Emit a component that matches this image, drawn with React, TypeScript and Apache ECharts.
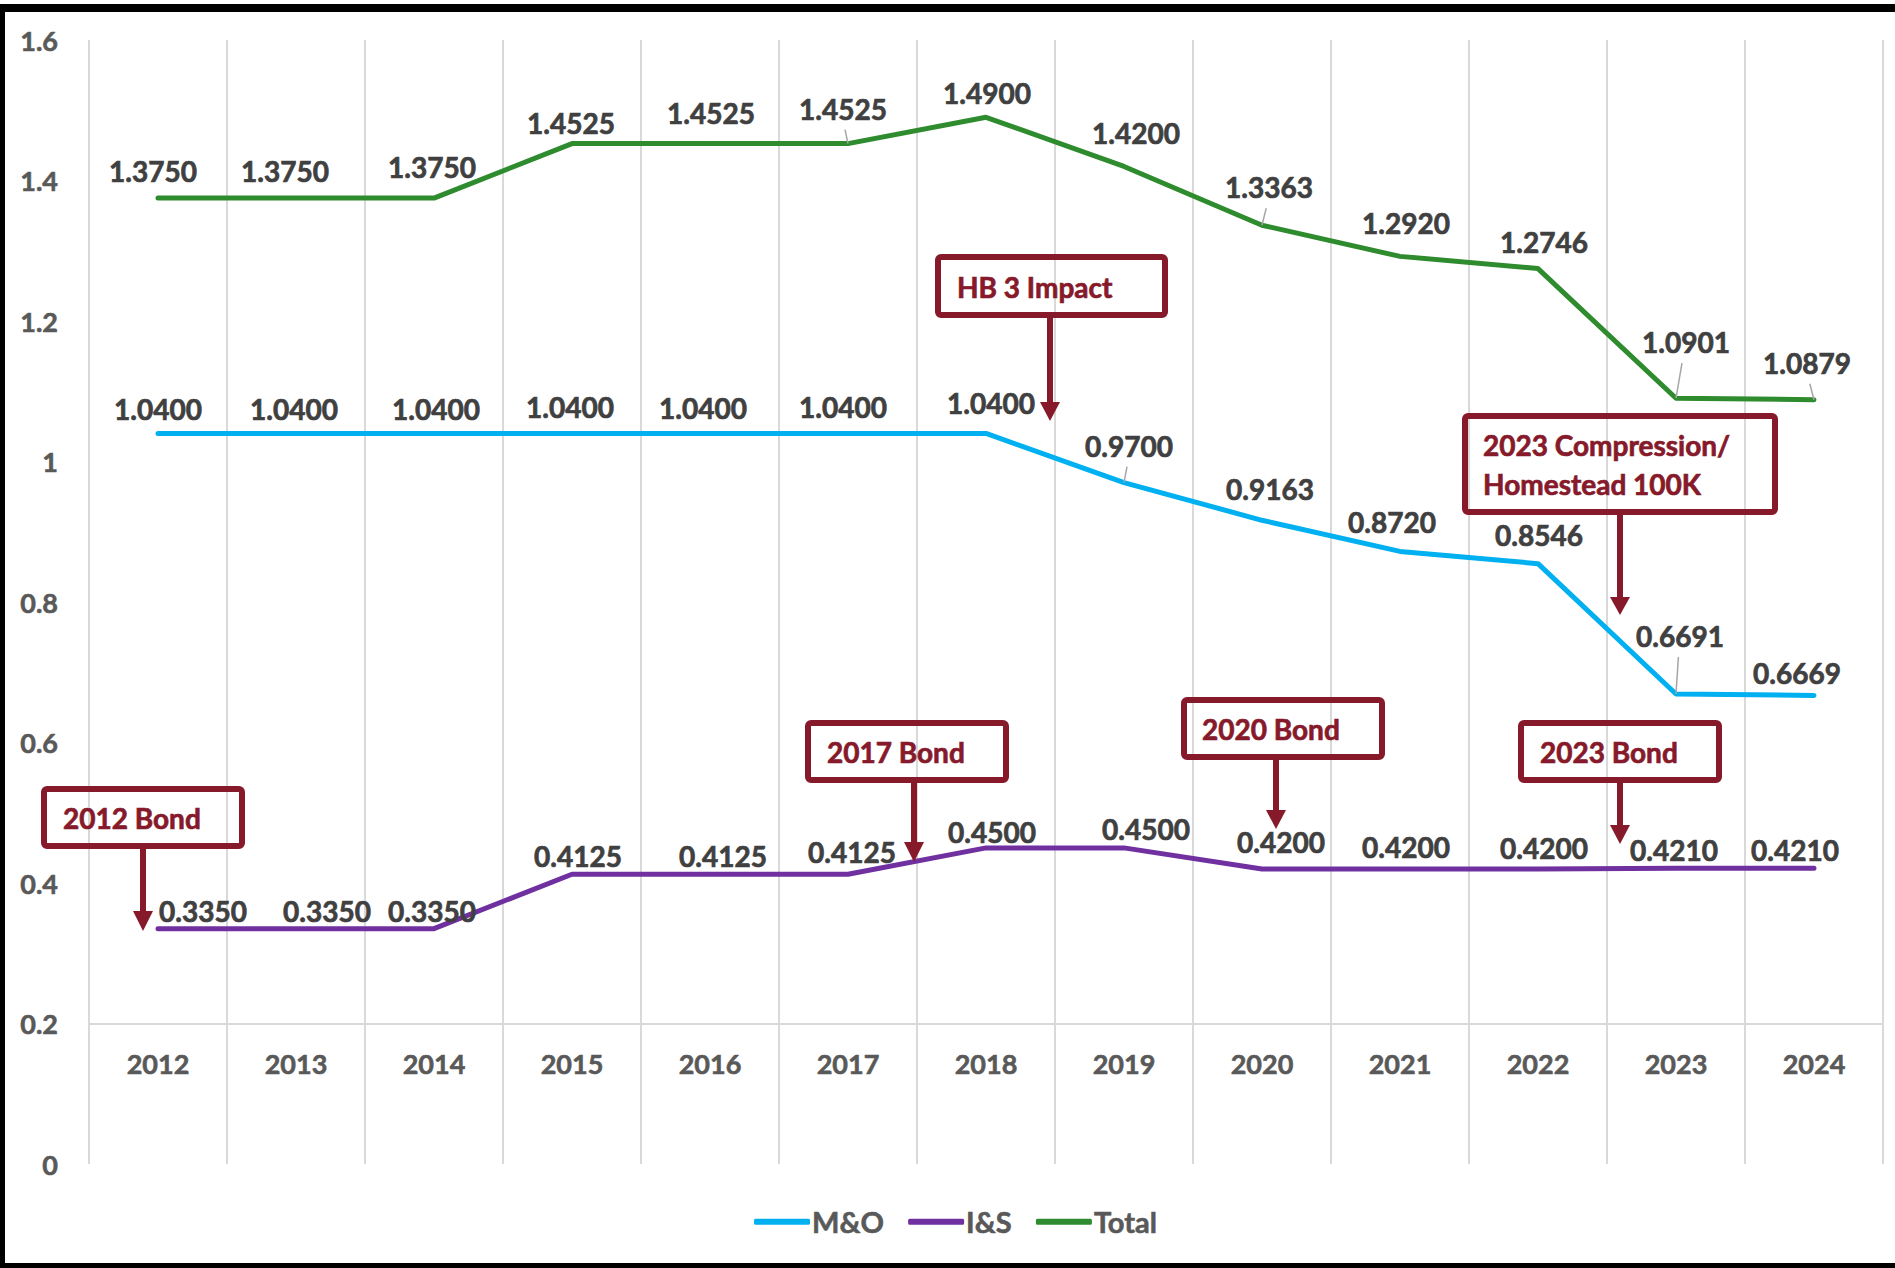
import React, { useEffect, useRef } from "react";
import * as echarts from "echarts";

// ---------- data ----------
const years = ["2012", "2013", "2014", "2015", "2016", "2017", "2018", "2019", "2020", "2021", "2022", "2023", "2024"];
const moValues = [1.04, 1.04, 1.04, 1.04, 1.04, 1.04, 1.04, 0.97, 0.9163, 0.872, 0.8546, 0.6691, 0.6669];
const isValues = [0.335, 0.335, 0.335, 0.4125, 0.4125, 0.4125, 0.45, 0.45, 0.42, 0.42, 0.42, 0.421, 0.421];
const totalValues = [1.375, 1.375, 1.375, 1.4525, 1.4525, 1.4525, 1.49, 1.42, 1.3363, 1.292, 1.2746, 1.0901, 1.0879];
const seriesNames = ["M&O", "I&S", "Total"];
const yMin = 0;
const yMax = 1.6;
const yInterval = 0.2;
const axisCrossValue = 0.2;

// ---------- label placement (style, not data) ----------
const moLabelOffsets = [[0, -24], [-2, -24], [2, -24], [-2, -26], [-7, -25], [-5, -26], [5, -30], [5, -37], [8, -31], [-8, -29], [1, -29], [4, -58], [-17, -23]];
const isLabelOffsets = [[45, -18], [31, -18], [-2, -18], [6, -18], [13, -18], [4, -22], [6, -16], [22, -19], [19, -27], [6, -22], [6, -21], [-2, -18], [-19, -18]];
const totalLabelOffsets = [[-5, -27], [-11, -27], [-2, -31], [-1, -21], [1, -31], [-5, -35], [1, -24], [12, -33], [7, -38], [6, -33], [6, -27], [10, -56], [-7, -37]];
// which labels have a leader line: [seriesIndex, dataIndex]
const leaderLines = [[2, 5], [2, 8], [2, 11], [2, 12], [0, 7], [0, 11]];

// ---------- annotations (style/layout) ----------
const annoColor = "#861A2B";
const annotations = [
  { lines: ["HB 3 Impact"], box: [935, 254, 1168, 318], textX: 957, textY: [287], arrow: [1050, 402, 421] },
  { lines: ["2023 Compression/", "Homestead 100K"], box: [1462, 413, 1778, 515], textX: 1483, textY: [445, 484], arrow: [1620, 597, 615] },
  { lines: ["2012 Bond"], box: [41, 786, 245, 849], textX: 63, textY: [818], arrow: [143, 911, 931] },
  { lines: ["2017 Bond"], box: [805, 720, 1009, 783], textX: 827, textY: [752], arrow: [914, 842, 862] },
  { lines: ["2020 Bond"], box: [1181, 697, 1385, 760], textX: 1202, textY: [729], arrow: [1276, 810, 829] },
  { lines: ["2023 Bond"], box: [1518, 720, 1722, 783], textX: 1540, textY: [752], arrow: [1620, 825, 844] },
];

const FONT = "Lato";
const W = 1895;
const H = 1268;
const GRID = { left: 89, right: 12, top: 40, bottom: 104 };
const LABEL_COLOR = "#404040";
const AXIS_COLOR = "#595959";

function buildGraphic(extra: any[]) {
  const els: any[] = [];
  const lw = 6;
  annotations.forEach((a) => {
    const [x0, y0, x1, y1] = a.box;
    els.push({
      type: "rect",
      shape: { x: x0 + lw / 2, y: y0 + lw / 2, width: x1 - x0 - lw, height: y1 - y0 - lw, r: 3 },
      style: { fill: "none", stroke: annoColor, lineWidth: lw },
      z: 100,
    });
    a.lines.forEach((t, i) => {
      els.push({
        type: "text",
        x: a.textX,
        y: a.textY[i],
        style: {
          text: t,
          fill: annoColor,
          stroke: annoColor,
          lineWidth: 0.7,
          fontFamily: FONT,
          fontWeight: "bold",
          fontSize: 28,
          align: "left",
          verticalAlign: "middle",
        },
        z: 100,
      });
    });
    const [ax, base, tip] = a.arrow;
    els.push({
      type: "line",
      shape: { x1: ax, y1: y1, x2: ax, y2: base + 1 },
      style: { stroke: annoColor, lineWidth: 6 },
      z: 100,
    });
    els.push({
      type: "polygon",
      shape: { points: [[ax - 10, base], [ax + 10, base], [ax, tip]] },
      style: { fill: annoColor },
      z: 100,
    });
  });
  // outer black frame
  els.push({ type: "rect", shape: { x: 0, y: 4, width: W, height: 8 }, style: { fill: "#000" }, z: 200 });
  els.push({ type: "rect", shape: { x: 0, y: 4, width: 5, height: H - 4 }, style: { fill: "#000" }, z: 200 });
  els.push({ type: "rect", shape: { x: 0, y: 1263, width: W, height: 5 }, style: { fill: "#000" }, z: 200 });
  return els.concat(extra);
}

function makeSeries(name: string, values: number[], offsets: number[][], color: string) {
  return {
    name,
    type: "line",
    data: values.map((v, i) => ({ value: v, label: { offset: offsets[i] } })),
    symbol: "circle",
    symbolSize: 0.1,
    showSymbol: true,
    itemStyle: { color },
    lineStyle: { color, width: 5, cap: "round", join: "round" },
    label: {
      show: true,
      position: "inside",
      formatter: (p: any) => Number(p.value).toFixed(4),
      fontFamily: FONT,
      fontWeight: "bold",
      fontSize: 28,
      color: LABEL_COLOR,
      textBorderColor: LABEL_COLOR,
      textBorderWidth: 0.7,
    },
    emphasis: { disabled: true },
  };
}

const allValues = [moValues, isValues, totalValues];
const allOffsets = [moLabelOffsets, isLabelOffsets, totalLabelOffsets];

export default function App() {
  const ref = useRef<HTMLDivElement>(null);
  useEffect(() => {
    document.body.style.margin = "0";
    const chart = echarts.init(ref.current!, null, { renderer: "svg" });
    const plotH = H - GRID.top - GRID.bottom;
    const axisText = {
      fontFamily: FONT,
      fontWeight: "bold",
      fontSize: 27,
      color: AXIS_COLOR,
      textBorderColor: AXIS_COLOR,
      textBorderWidth: 0.6,
    };
    const option: any = {
      animation: false,
      backgroundColor: "#ffffff",
      grid: { ...GRID, containLabel: false },
      legend: {
        data: seriesNames,
        left: 749,
        top: 1202,
        icon: "roundRect",
        itemWidth: 56,
        itemHeight: 6,
        itemGap: 24,
        textStyle: { ...axisText, fontSize: 29, padding: [0, 0, 0, -3] },
        selectedMode: false,
      },
      xAxis: {
        type: "category",
        data: years,
        boundaryGap: true,
        offset: -(plotH * (axisCrossValue - yMin)) / (yMax - yMin),
        axisLine: { show: true, lineStyle: { color: "#D9D9D9", width: 2 } },
        axisTick: { show: false },
        axisLabel: { margin: 26, ...axisText },
        splitLine: { show: true, lineStyle: { color: "#D9D9D9", width: 2 } },
      },
      yAxis: {
        type: "value",
        min: yMin,
        max: yMax,
        interval: yInterval,
        axisLine: { show: false },
        axisTick: { show: false },
        splitLine: { show: false },
        axisLabel: { margin: 31, ...axisText },
      },
      series: [
        makeSeries(seriesNames[0], moValues, moLabelOffsets, "#00B0F0"),
        makeSeries(seriesNames[1], isValues, isLabelOffsets, "#7030A0"),
        makeSeries(seriesNames[2], totalValues, totalLabelOffsets, "#2E8B2E"),
      ],
    };
    chart.setOption(option);
    // leader lines from each labelled point to its moved label, located via the chart's own scales
    const leaders: any[] = [];
    leaderLines.forEach(([s, i]) => {
      const p = chart.convertToPixel({ seriesIndex: s }, [i, allValues[s][i]]) as number[];
      if (!p) return;
      const [ox, oy] = allOffsets[s][i];
      leaders.push({
        type: "line",
        shape: { x1: p[0], y1: p[1], x2: p[0] + ox * 0.6, y2: p[1] + oy + 21 },
        style: { stroke: "#A6A6A6", lineWidth: 1.5 },
        z: 50,
      });
    });
    chart.setOption({ graphic: buildGraphic(leaders) });
    return () => chart.dispose();
  }, []);
  return <div ref={ref} style={{ width: W, height: H, background: "#fff" }} />;
}
